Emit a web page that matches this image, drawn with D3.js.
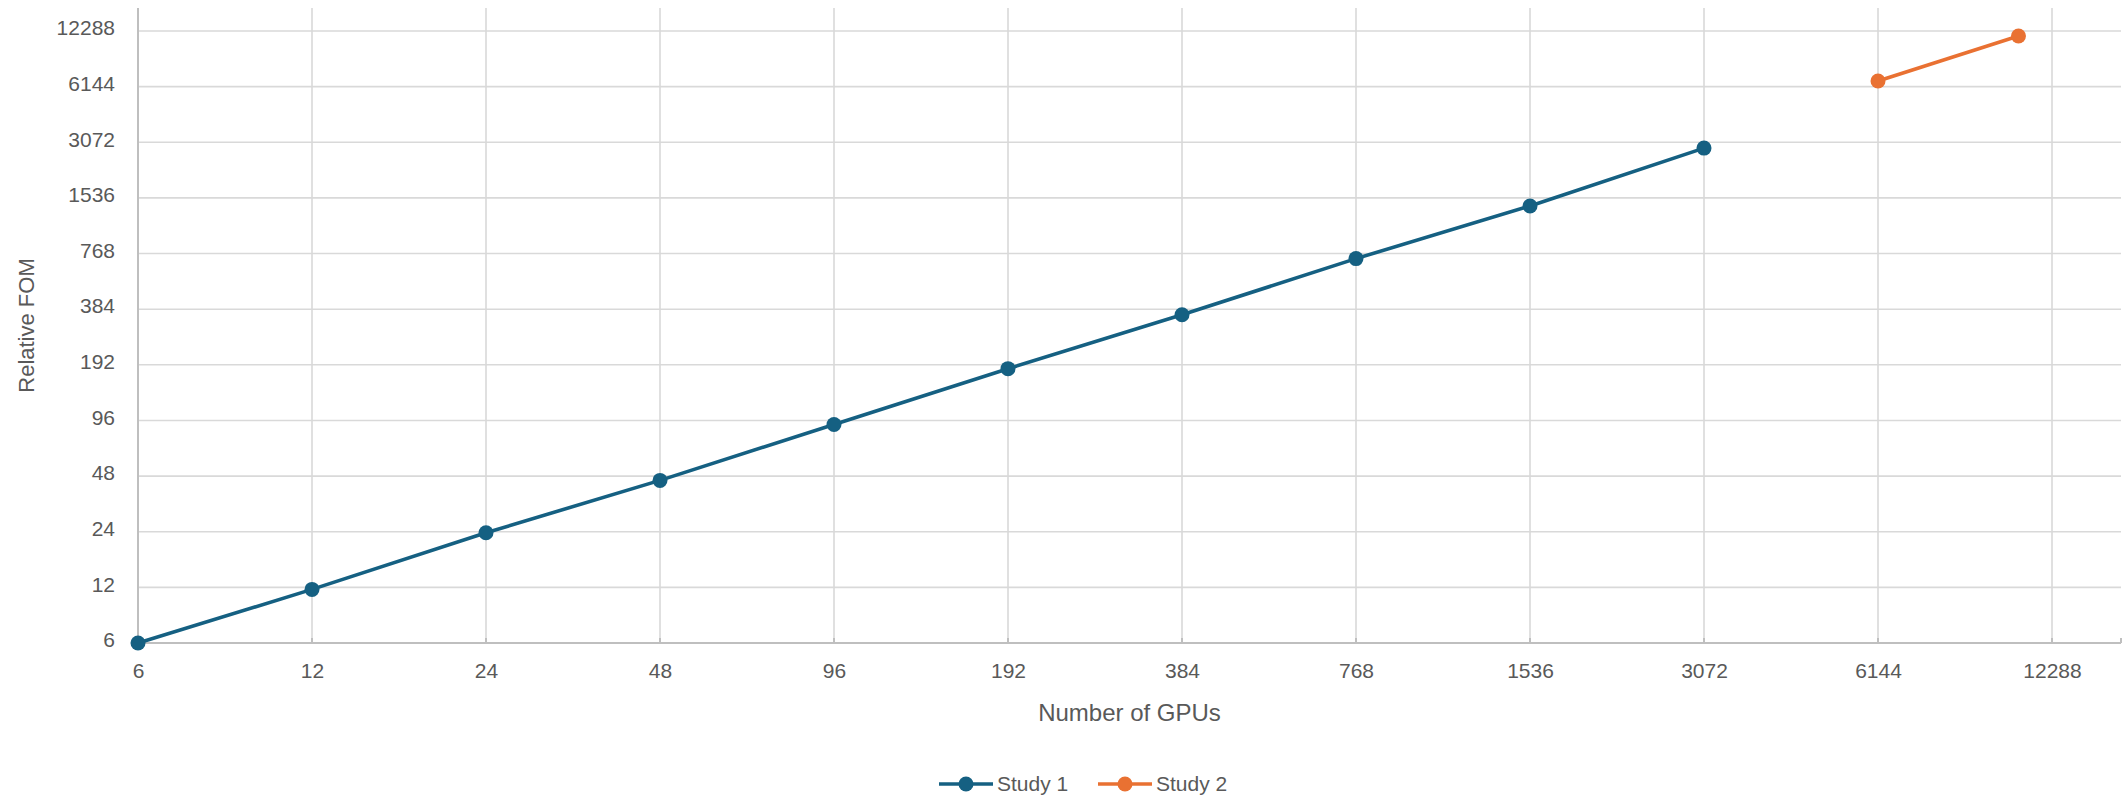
<!DOCTYPE html>
<html>
<head>
<meta charset="utf-8">
<script src="https://cdn.jsdelivr.net/npm/d3@7"></script>
<style>
  html, body { margin: 0; padding: 0; background: #ffffff; }
  svg { display: block; }
  text { font-family: "Liberation Sans", Arial, sans-serif; fill: #595959; }
</style>
</head>
<body>
<svg id="chart" width="2126" height="795"></svg>
<script>
// ---- Data ----
const tickValues = [6, 12, 24, 48, 96, 192, 384, 768, 1536, 3072, 6144, 12288];
const study1Gpus = [6, 12, 24, 48, 96, 192, 384, 768, 1536, 3072];
const study1Fom  = [6, 11.7, 23.7, 45.5, 91.3, 183, 358, 721, 1389, 2857];
const study2Gpus = [6144, 10752];
const study2Fom  = [6593, 11553];
const seriesNames = ["Study 1", "Study 2"];
const seriesColors = ["#156082", "#E97132"];

// ---- Layout ----
const W = 2126, H = 795;
const plotLeft = 138, plotRight = 2121, plotTop = 8, plotBottom = 643;
const xTickRight = 2052, yTickTop = 31;

const svg = d3.select("#chart");

const x = d3.scaleLog().base(2).domain([6, 12288]).range([plotLeft, xTickRight]);
const y = d3.scaleLog().base(2).domain([6, 12288]).range([plotBottom, yTickTop]);

// Gridlines
const grid = svg.append("g");
grid.selectAll("line.h").data(tickValues.slice(1)).enter().append("line")
  .attr("x1", plotLeft).attr("x2", plotRight)
  .attr("y1", d => y(d)).attr("y2", d => y(d))
  .attr("stroke", "#d9d9d9").attr("stroke-width", 1.6);
grid.selectAll("line.v").data(tickValues.slice(1)).enter().append("line")
  .attr("x1", d => x(d)).attr("x2", d => x(d))
  .attr("y1", plotTop).attr("y2", plotBottom)
  .attr("stroke", "#d9d9d9").attr("stroke-width", 1.6);

// Axes
const xAxis = d3.axisBottom(x).tickValues(tickValues).tickFormat(d3.format("d"))
  .tickSizeInner(0).tickSizeOuter(0).tickPadding(20);
const gx = svg.append("g").attr("transform", `translate(0,${plotBottom})`).call(xAxis);
gx.select(".domain").remove();
gx.selectAll("text").attr("font-size", 21).attr("fill", "#595959")
  .style("font-family", "'Liberation Sans', Arial, sans-serif");

const yAxis = d3.axisLeft(y).tickValues(tickValues).tickFormat(d3.format("d"))
  .tickSizeInner(0).tickSizeOuter(0).tickPadding(23);
const gy = svg.append("g").attr("transform", `translate(${plotLeft},0)`).call(yAxis);
gy.select(".domain").remove();
gy.selectAll("text").attr("font-size", 21).attr("fill", "#595959").attr("dy", "0.18em")
  .style("font-family", "'Liberation Sans', Arial, sans-serif");

// Axis lines
svg.append("line").attr("x1", plotLeft).attr("x2", plotRight)
  .attr("y1", plotBottom).attr("y2", plotBottom)
  .attr("stroke", "#bfbfbf").attr("stroke-width", 2);
svg.append("line").attr("x1", plotLeft).attr("x2", plotLeft)
  .attr("y1", plotTop).attr("y2", plotBottom)
  .attr("stroke", "#bfbfbf").attr("stroke-width", 2);
// small tick marks on x axis
svg.selectAll("line.xt").data(tickValues.slice(1)).enter().append("line")
  .attr("x1", d => x(d)).attr("x2", d => x(d))
  .attr("y1", plotBottom - 5).attr("y2", plotBottom)
  .attr("stroke", "#bfbfbf").attr("stroke-width", 2);
svg.append("line").attr("x1", plotRight).attr("x2", plotRight)
  .attr("y1", plotBottom - 5).attr("y2", plotBottom)
  .attr("stroke", "#bfbfbf").attr("stroke-width", 2);

// Series
const series = [
  { name: seriesNames[0], color: seriesColors[0], pts: study1Gpus.map((g, i) => [g, study1Fom[i]]) },
  { name: seriesNames[1], color: seriesColors[1], pts: study2Gpus.map((g, i) => [g, study2Fom[i]]) }
];
const line = d3.line().x(d => x(d[0])).y(d => y(d[1]));
series.forEach(s => {
  svg.append("path").datum(s.pts).attr("d", line)
    .attr("fill", "none").attr("stroke", s.color).attr("stroke-width", 3.6)
    .attr("stroke-linejoin", "round");
  svg.selectAll(null).data(s.pts).enter().append("circle")
    .attr("cx", d => x(d[0])).attr("cy", d => y(d[1])).attr("r", 7.5)
    .attr("fill", s.color);
});

// Axis titles
svg.append("text").attr("x", (plotLeft + plotRight) / 2).attr("y", 721)
  .attr("text-anchor", "middle").attr("font-size", 24).text("Number of GPUs");
svg.append("text").attr("transform", `translate(34,${(plotTop + plotBottom) / 2}) rotate(-90)`)
  .attr("text-anchor", "middle").attr("font-size", 22).text("Relative FOM");

// Legend
const legendY = 784;
const legendItems = [{ x0: 939 }, { x0: 1098 }];
series.forEach((s, i) => {
  const g = svg.append("g").attr("transform", `translate(${legendItems[i].x0},${legendY})`);
  g.append("line").attr("x1", 0).attr("x2", 54).attr("y1", 0).attr("y2", 0)
    .attr("stroke", s.color).attr("stroke-width", 3.6);
  g.append("circle").attr("cx", 27).attr("cy", 0).attr("r", 7.5).attr("fill", s.color);
  g.append("text").attr("x", 58).attr("y", 7).attr("font-size", 21).text(s.name);
});
</script>
</body>
</html>
